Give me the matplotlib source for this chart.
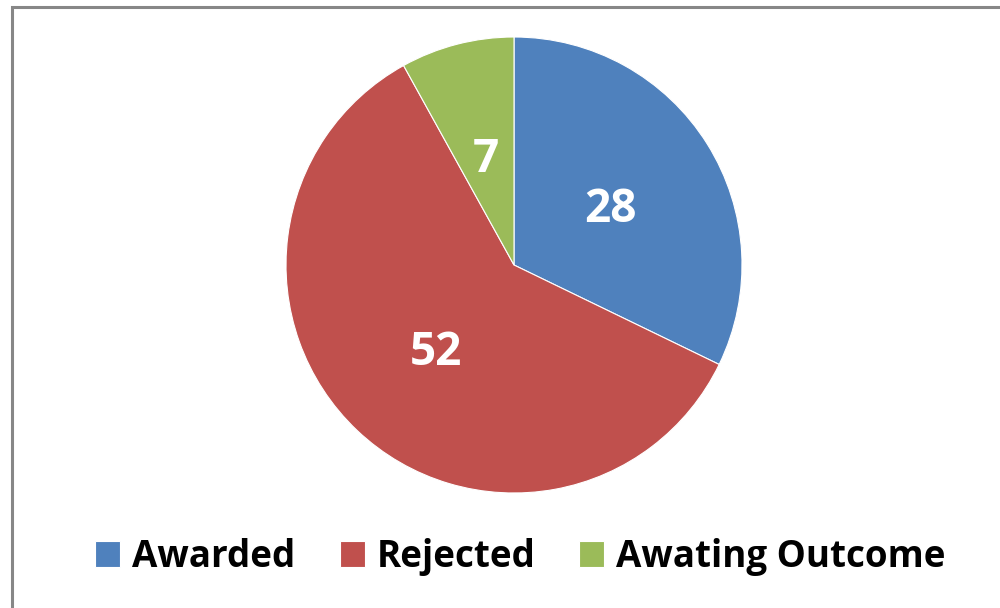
import matplotlib.pyplot as plt
from matplotlib.patches import Rectangle

labels = ["Awarded", "Rejected", "Awating Outcome"]
values = [28, 52, 7]
colors = ["#4F81BD", "#C0504D", "#9BBB59"]

plt.rcParams["font.family"] = ["Open Sans", "DejaVu Sans"]

fig = plt.figure(figsize=(10, 6.08), dpi=100)

# outer chart frame (runs off the right and bottom edges)
fig.patches.append(Rectangle((12 / 1000, -0.05), 1.05, (608 - 7) / 608 + 0.05,
                             transform=fig.transFigure, fill=False,
                             edgecolor="#878787", linewidth=2.2))

cx, cy, r = 514, 265, 228
ax = fig.add_axes([(cx - r) / 1000, (608 - cy - r) / 608, 2 * r / 1000, 2 * r / 608])
wedges, texts, autotexts = ax.pie(
    values, colors=colors, startangle=90, counterclock=False,
    autopct=lambda p: "%d" % round(p * sum(values) / 100), pctdistance=0.5,
    wedgeprops=dict(edgecolor="white", linewidth=0.8),
    textprops=dict(color="white", fontsize=33, fontweight="bold"))
for t in autotexts:
    x, y = t.get_position()
    t.set_position((x, y - 0.02))
ax.set_xlim(-1, 1)
ax.set_ylim(-1, 1)
ax.set_aspect("equal")

leg = fig.legend(wedges, labels, loc="center", bbox_to_anchor=(0.5205, 1 - 557 / 608),
                 ncol=3, frameon=False, prop=dict(size=26.5, weight="bold"),
                 handlelength=0.68, handleheight=0.68, handletextpad=0.32,
                 columnspacing=1.2)

plt.savefig("out.png", dpi=100)
